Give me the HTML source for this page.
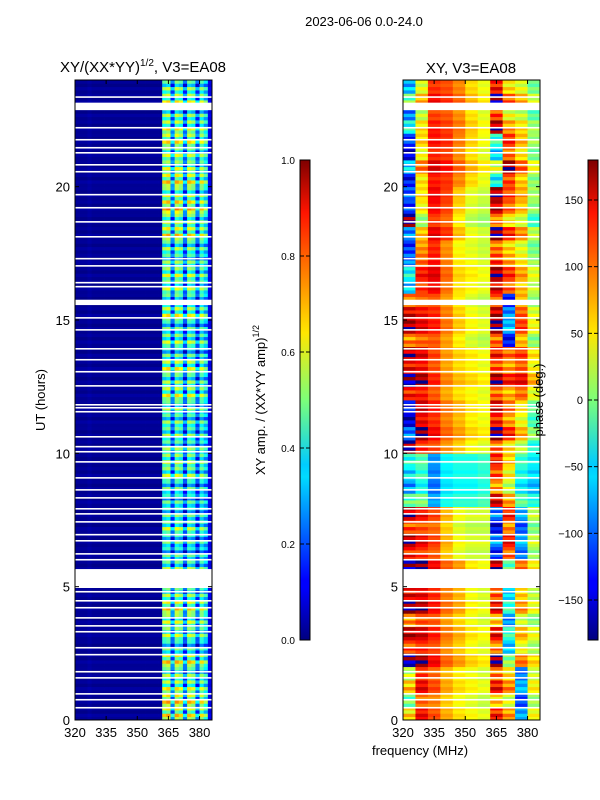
<!DOCTYPE html>
<html><head><meta charset="utf-8">
<style>
body{margin:0;background:#fff;}
svg{display:block;font-family:"Liberation Sans",sans-serif;}
</style></head>
<body>
<svg id="chart" width="600" height="800" viewBox="0 0 600 800" xmlns="http://www.w3.org/2000/svg">
<defs>
<linearGradient id="jet" x1="0" y1="1" x2="0" y2="0">
<stop offset="0" stop-color="#00007f"/><stop offset="0.11" stop-color="#0000ff"/>
<stop offset="0.125" stop-color="#0000ff"/><stop offset="0.34" stop-color="#00dbff"/>
<stop offset="0.365" stop-color="#0cf"/><stop offset="0.5" stop-color="#7cff79"/>
<stop offset="0.64" stop-color="#ffe600"/><stop offset="0.66" stop-color="#ffd700"/>
<stop offset="0.89" stop-color="#ff1400"/><stop offset="1" stop-color="#7f0000"/>
</linearGradient>
</defs>
<text x="364" y="26" font-size="13" text-anchor="middle">2023-06-06 0.0-24.0</text>
<g id="ampPanel"></g>
<g id="phPanel"></g>
<text x="143" y="72" font-size="15" text-anchor="middle">XY/(XX*YY)<tspan font-size="10" dy="-6">1/2</tspan><tspan dy="6">, V3=EA08</tspan></text>
<text x="471" y="73" font-size="15" text-anchor="middle">XY, V3=EA08</text>
<text x="45" y="400" font-size="13" text-anchor="middle" transform="rotate(-90 45 400)">UT (hours)</text>
<text x="420" y="755" font-size="13" text-anchor="middle">frequency (MHz)</text>
<rect x="300" y="160" width="10" height="480" fill="url(#jet)" stroke="#000" stroke-width="1"/>
<rect x="588" y="160" width="10" height="480" fill="url(#jet)" stroke="#000" stroke-width="1"/>
<text x="265" y="400" font-size="13" text-anchor="middle" transform="rotate(-90 265 400)">XY amp. / (XX*YY amp)<tspan font-size="9" dy="-6">1/2</tspan></text>
<text x="543" y="400" font-size="13" text-anchor="middle" transform="rotate(-90 543 400)">phase (deg.)</text>
<g id="cb1"></g>
<g id="cb2"></g>
</svg>
<script>
// ---- data ----
const freqMin = 320, freqMax = 386;
const xTicks = [320, 335, 350, 365, 380];
const yTicks = [0, 5, 10, 15, 20];
const ampTicks = [0.0, 0.2, 0.4, 0.6, 0.8, 1.0];
const phaseTicks = [-150, -100, -50, 0, 50, 100, 150];
// amplitude per 2 MHz bin (320..386)
const ampCol = [0.02,0.02,0.02,0.03,0.02,0.02,0.02,0.02,0.02,0.02,0.02,0.02,0.02,0.02,0.02,0.02,0.02,0.02,0.02,0.02,0.02,
  0.48,0.52,0.25,0.52,0.47,0.22,0.5,0.46,0.22,0.46,0.36,0.1];
// amplitude row factor per half hour (0h..24h)
const ampRow = [1.1,1.2,1.0,0.9,1.1,0.8,0.9,1.0,1.1,0.9,0.8,0.9,0.7,0.8,0.9,0.8,0.7,0.8,0.9,1.0,0.8,0.9,0.8,0.9,
  1.0,0.9,1.0,0.8,0.9,0.8,1.0,0.9,0.9,1.0,0.8,0.9,1.1,1.0,1.2,1.0,1.1,1.0,0.9,1.1,1.0,0.9,1.0,0.9];
// phase grid: 2h bands (0-2 first), 6 MHz columns
const phaseGrid = [
 [30,120,100,70,50,40,30,100,60,-90,30],
 [140,140,120,90,70,50,40,120,-40,60,30],
 [140,140,120,90,70,40,30,100,-60,60,20],
 [150,130,110,70,40,30,30,-100,120,-80,20],
 [-60,-30,-90,-50,-40,-40,-30,100,40,-40,-60],
 [-150,140,120,90,70,50,40,130,80,40,-20],
 [150,140,110,80,60,50,40,120,90,110,50],
 [140,130,120,90,60,40,30,150,-90,100,30],
 [-90,100,130,90,50,40,30,120,80,50,10],
 [-130,40,130,110,60,30,20,140,90,60,0],
 [-120,60,130,120,90,60,40,-30,120,70,10],
 [-60,40,120,110,90,60,40,140,60,40,0]];
const phaseColWeight = [1,0.6,0.3,0.2,0.2,0.2,0.2,1,0.8,0.6,0.5];
const phaseRowOff = [20,-40,30,-10,50,-30,10,-60,40,0,-20,60,-30,20,-50,10,40,-20,0,30,-40,60,-10,20,
  -30,50,-20,10,-60,30,0,-40,20,50,-10,-30,40,-50,10,30,-20,60,-40,0,20,-30,50,-10];
const streak = [0,0.15,-0.1,0.08,-0.05,0.12,-0.12,0.04];
// data gaps: [start hour, duration]
const gaps = [[23.33,0.06],[22.87,0.28],[22.18,0.06],[21.73,0.06],[21.43,0.06],[21.24,0.06],[20.79,0.06],[20.53,0.06],
 [19.67,0.06],[19.18,0.06],[18.65,0.06],[18.09,0.06],[17.27,0.06],[17.0,0.06],[16.37,0.06],[16.22,0.06],[15.56,0.2],
 [15.05,0.06],[14.6,0.06],[13.89,0.06],[13.48,0.06],[13.03,0.06],[12.5,0.06],[11.79,0.06],[11.68,0.06],[11.53,0.06],
 [10.59,0.06],[10.22,0.06],[10.03,0.06],[9.65,0.06],[9.05,0.06],[8.6,0.06],[8.3,0.06],[7.89,0.06],[7.7,0.06],[7.4,0.06],
 [6.92,0.06],[6.69,0.06],[6.2,0.06],[5.98,0.06],[4.95,0.71],[4.78,0.06],[4.44,0.06],[4.18,0.06],[3.8,0.06],[3.5,0.06],
 [3.28,0.06],[2.68,0.06],[2.42,0.06],[1.78,0.06],[1.55,0.06],[0.95,0.06],[0.73,0.06],[0.43,0.06]];

// ---- helpers ----
const NS = "http://www.w3.org/2000/svg";
function el(tag, attrs, parent){const e=document.createElementNS(NS,tag);for(const k in attrs)e.setAttribute(k,attrs[k]);parent.appendChild(e);return e;}
function jet(v){v=Math.max(0,Math.min(1,v));
 const r=Math.max(0,Math.min(1,1.5-Math.abs(4*v-3))),g=Math.max(0,Math.min(1,1.5-Math.abs(4*v-2))),b=Math.max(0,Math.min(1,1.5-Math.abs(4*v-1)));
 return "rgb("+Math.round(r*255)+","+Math.round(g*255)+","+Math.round(b*255)+")";}
const yTop=80,yBot=720;
const yS = h => yBot - h/24*(yBot-yTop);
function panel(gid,x0,x1,valueFn,name){
 const g=document.getElementById(gid);
 const xS=f=>x0+(f-freqMin)/(freqMax-freqMin)*(x1-x0);
 const nRows=192, dh=24/nRows, nCols=ampCol.length, df=(freqMax-freqMin)/nCols;
 for(let r=0;r<nRows;r++){
  const h=r*dh;
  for(let c=0;c<nCols;c++){
   const f=freqMin+c*df;
   const rc=el("rect",{x:xS(f).toFixed(2),y:yS(h+dh).toFixed(2),width:(xS(f+df)-xS(f)+0.4).toFixed(2),height:(yS(h)-yS(h+dh)+0.4).toFixed(2),fill:jet(valueFn(r,c,h))},g);
   
   
  }
 }
 for(const gp of gaps){
  const gr=el("rect",{x:x0,y:yS(gp[0]+gp[1]),width:x1-x0,height:yS(gp[0])-yS(gp[0]+gp[1]),fill:"#fff"},g);
  
  
 }
 const fr=el("rect",{x:x0,y:yTop,width:x1-x0,height:yBot-yTop,fill:"none",stroke:"#000","stroke-width":1},g);
 
 
 for(const t of xTicks){const x=xS(t);
  el("line",{x1:x,x2:x,y1:yBot,y2:yBot-4,stroke:"#000"},g);el("line",{x1:x,x2:x,y1:yTop,y2:yTop+4,stroke:"#000"},g);
  const tx=el("text",{x:x,y:yBot+17,"font-size":13,"text-anchor":"middle"},g);tx.textContent=t;
  
  }
 for(const t of yTicks){const y=yS(t);
  el("line",{x1:x0,x2:x0+4,y1:y,y2:y,stroke:"#000"},g);el("line",{x1:x1,x2:x1-4,y1:y,y2:y,stroke:"#000"},g);
  const tx=el("text",{x:x0-5,y:y+5,"font-size":13,"text-anchor":"end"},g);tx.textContent=t;
  
  }
}
panel("ampPanel",75,212,(r,c,h)=>{
 const a=ampRow[Math.min(47,Math.floor(h*2))];
 const s=streak[r%streak.length];
 return ampCol[c]>0.1 ? ampCol[c]*a+s : ampCol[c]+s*0.1;
},"amplitude");
panel("phPanel",403,540,(r,c,h)=>{
 const band=Math.min(11,Math.floor(h/2)), gc=Math.min(10,Math.floor(c/3));
 let p=phaseGrid[band][gc]+phaseRowOff[Math.min(47,Math.floor(h*2))]*phaseColWeight[gc]+streak[r%streak.length]*200*phaseColWeight[gc];
 while(p>180)p-=360; while(p<-180)p+=360;
 return (p+180)/360;
},"phase");
// colorbar ticks
const cb1=document.getElementById("cb1"), cb2=document.getElementById("cb2");
for(const t of ampTicks){const y=640-t*480;
 el("line",{x1:300,x2:304,y1:y,y2:y,stroke:"#000"},cb1);el("line",{x1:310,x2:306,y1:y,y2:y,stroke:"#000"},cb1);
 const tx=el("text",{x:295,y:y+4,"font-size":10,"text-anchor":"end"},cb1);tx.textContent=t.toFixed(1);
 
 }
for(const t of phaseTicks){const y=640-(t+180)/360*480;
 el("line",{x1:588,x2:592,y1:y,y2:y,stroke:"#000"},cb2);el("line",{x1:598,x2:594,y1:y,y2:y,stroke:"#000"},cb2);
 const tx=el("text",{x:583,y:y+4,"font-size":11,"text-anchor":"end"},cb2);tx.textContent=t<0?"\u2212"+(-t):t;
 
 }
</script>
</body></html>
